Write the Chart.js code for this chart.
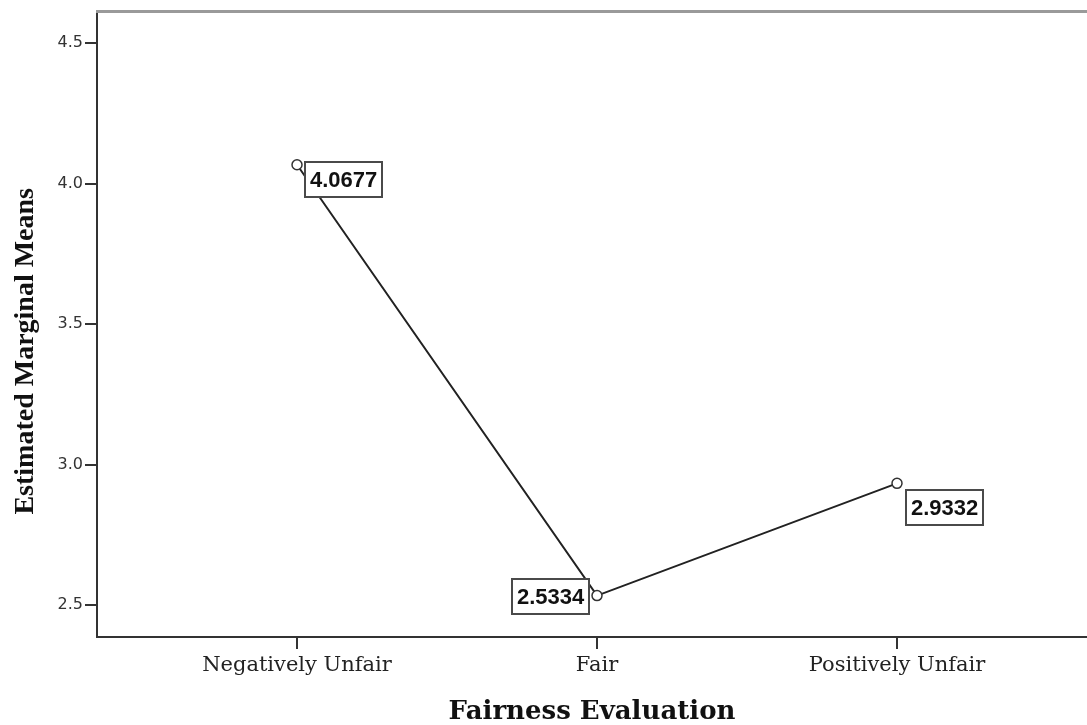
<!DOCTYPE html>
<html>
<head>
<meta charset="utf-8">
<script src="https://cdn.jsdelivr.net/npm/chart.js@4.4.1/dist/chart.umd.min.js"></script>
<style>
    html, body { margin: 0; padding: 0; background: #fff; overflow: hidden; }
    #wrap { width: 1087px; height: 725px; position: relative; }
</style>
</head>
<body>
<div id="wrap"><canvas id="chart"></canvas></div>
<script>
const categories = ['Negatively Unfair', 'Fair', 'Positively Unfair'];
const means = [4.0677, 2.5334, 2.9332];
const yTicks = [2.5, 3.0, 3.5, 4.0, 4.5];
const yTitle = 'Estimated Marginal Means';
const xTitle = 'Fairness Evaluation';

// where each value box sits next to its point (px)
const boxPlacement = [
    { side: 'right', dx: 8, dy: -3 },
    { side: 'left', dx: -8, dy: -17 },
    { side: 'right', dx: 9, dy: 7 }
];

const valueBoxes = {
    id: 'valueBoxes',
    afterDatasetsDraw(chart) {
        const ctx = chart.ctx;
        const meta = chart.getDatasetMeta(0);
        ctx.save();
        ctx.font = 'bold 22px "Liberation Sans", Arial, sans-serif';
        ctx.textBaseline = 'middle';
        ctx.textAlign = 'left';
        meta.data.forEach((pt, i) => {
            const txt = means[i].toFixed(4);
            const w = Math.round(ctx.measureText(txt).width) + 10;
            const h = 35;
            const p = boxPlacement[i];
            const x = Math.round(p.side === 'right' ? pt.x + p.dx : pt.x + p.dx - w);
            const y = Math.round(pt.y + p.dy);
            ctx.fillStyle = '#fff';
            ctx.fillRect(x, y, w, h);
            ctx.strokeStyle = '#4a4a4a';
            ctx.lineWidth = 2;
            ctx.strokeRect(x, y, w, h);
            ctx.fillStyle = '#111';
            ctx.fillText(txt, x + 5, y + h / 2 + 1);
        });
        ctx.restore();
    }
};

// grey frame line along the top + the vertical axis title (SPSS puts it below centre)
const frameAndTitle = {
    id: 'frameAndTitle',
    afterDraw(chart) {
        const { left, right, top, bottom } = chart.chartArea;
        const ctx = chart.ctx;
        ctx.save();
        ctx.strokeStyle = '#9a9a9a';
        ctx.lineWidth = 3;
        ctx.beginPath();
        ctx.moveTo(left - 1, top);
        ctx.lineTo(right, top);
        ctx.stroke();

        ctx.translate(33, (top + bottom) / 2 + 27);
        ctx.rotate(-Math.PI / 2);
        ctx.font = 'bold 28px "Liberation Serif", "Times New Roman", serif';
        ctx.fillStyle = '#111';
        ctx.textAlign = 'center';
        ctx.textBaseline = 'alphabetic';
        ctx.fillText(yTitle, 0, 0);
        ctx.restore();
    }
};

new Chart(document.getElementById('chart'), {
    type: 'line',
    data: {
        datasets: [{
            data: means.map((v, i) => ({ x: i, y: v })),
            borderColor: '#222',
            borderWidth: 2,
            pointRadius: 5,
            pointBorderWidth: 1.5,
            pointBorderColor: '#333',
            pointBackgroundColor: '#fff',
            tension: 0
        }]
    },
    options: {
        responsive: true,
        maintainAspectRatio: false,
        animation: false,
        layout: { autoPadding: false, padding: { top: 11, right: 0, left: 0, bottom: 0 } },
        plugins: {
            legend: { display: false },
            tooltip: { enabled: false }
        },
        scales: {
            x: {
                type: 'linear',
                min: -0.6667,
                max: 2.6333,
                afterBuildTicks: (s) => { s.ticks = categories.map((_, i) => ({ value: i })); },
                afterFit: (s) => { s.height = 88; s.paddingLeft = 0; s.paddingRight = 0; },
                border: { color: '#333', width: 2 },
                grid: { drawOnChartArea: false, tickLength: 12, color: '#333', lineWidth: 2 },
                ticks: {
                    callback: (v) => categories[v],
                    color: '#222',
                    padding: 4,
                    maxRotation: 0,
                    font: { family: '"DejaVu Serif", serif', size: 21 }
                },
                title: {
                    display: true,
                    text: xTitle,
                    color: '#111',
                    padding: { top: 0, bottom: 0 },
                    font: { family: '"DejaVu Serif", serif', size: 26, weight: 'bold', lineHeight: 1 }
                }
            },
            y: {
                min: 2.386,
                max: 4.613,
                afterBuildTicks: (s) => { s.ticks = yTicks.map(v => ({ value: v })); },
                afterFit: (s) => { s.width = 97; },
                border: { color: '#333', width: 2 },
                grid: { drawOnChartArea: false, tickLength: 12, color: '#333', lineWidth: 2 },
                ticks: {
                    callback: (v) => v.toFixed(1),
                    color: '#333',
                    padding: 2,
                    font: { family: '"DejaVu Sans", sans-serif', size: 16 }
                }
            }
        }
    },
    plugins: [valueBoxes, frameAndTitle]
});
</script>
</body>
</html>
